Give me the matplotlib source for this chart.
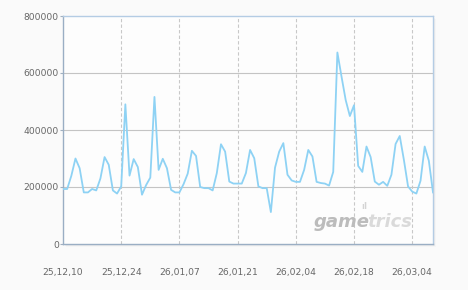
import numpy as np
import pandas as pd
import matplotlib
matplotlib.use('Agg')
from matplotlib import pyplot as plt
from matplotlib.patches import Rectangle

# daily values, 2025-12-10 .. 2026-03-09
values = [193000, 193000, 239000, 300000, 266000, 181000, 181000, 193000, 188000, 230000,
          305000, 278000, 188000, 177000, 202000, 490000, 240000, 298000, 270000, 173000,
          207000, 233000, 516000, 260000, 299000, 266000, 190000, 181000, 181000, 210000,
          247000, 327000, 309000, 200000, 196000, 196000, 188000, 249000, 350000, 324000,
          219000, 212000, 212000, 212000, 249000, 330000, 301000, 202000, 196000, 196000,
          112000, 268000, 324000, 354000, 243000, 223000, 218000, 218000, 260000, 330000,
          307000, 218000, 214000, 212000, 205000, 253000, 672000, 587000, 505000, 449000,
          487000, 274000, 253000, 342000, 305000, 219000, 208000, 218000, 204000, 243000,
          351000, 379000, 295000, 202000, 184000, 177000, 222000, 342000, 292000, 181000]
dates = pd.date_range('2025-12-10', periods=len(values), freq='D')

tick_dates = pd.to_datetime(['2025-12-10', '2025-12-24', '2026-01-07', '2026-01-21',
                             '2026-02-04', '2026-02-18', '2026-03-04'])
tick_labels = ['25,12,10', '25,12,24', '26,01,07', '26,01,21', '26,02,04', '26,02,18', '26,03,04']
y_ticks = [0, 200000, 400000, 600000, 800000]

W, H = 468, 290
fig = plt.figure(figsize=(W / 100, H / 100), dpi=100, facecolor='#fafafa')
x0, x1, y0, y1 = 63, 433, 16, 244
pos = [x0 / W, 1 - y1 / H, (x1 - x0) / W, (y1 - y0) / H]

# soft shadow under the frame
for i, a in enumerate([0.10, 0.06, 0.03]):
    d = i + 1
    fig.patches.append(Rectangle((pos[0] + d / W, pos[1] - d / H), pos[2], pos[3],
                                 transform=fig.transFigure, facecolor='#707070',
                                 edgecolor='none', alpha=a, zorder=0))

ax = fig.add_axes(pos, facecolor='#fdfdfd', zorder=2)
ax.plot(dates, values, color='#8ed2f4', lw=1.3, zorder=3, solid_joinstyle='round')

ax.set_xlim(dates[0], dates[-1])
ax.set_ylim(0, 800000)
ax.set_yticks(y_ticks)
ax.set_yticklabels([str(v) for v in y_ticks])
ax.set_xticks(tick_dates)
ax.set_xticklabels(tick_labels)

for v in y_ticks[1:-1]:
    ax.axhline(v, color='#c4c4c4', lw=0.8, zorder=1)
for d in tick_dates[1:]:
    ax.axvline(d, color='#c8c8c8', lw=0.8, ls=(0, (3, 2)), zorder=1)

ax.tick_params(axis='y', length=2, width=0.8, color='#a0b0c0', pad=1,
               labelsize=6.6, labelcolor='#666666')
ax.tick_params(axis='x', length=0, pad=17, labelsize=6.6, labelcolor='#666666')

for s in ['left', 'bottom']:
    ax.spines[s].set_color('#9aaec4')
    ax.spines[s].set_linewidth(1.0)
for s in ['top', 'right']:
    ax.spines[s].set_color('#b4cce4')
    ax.spines[s].set_linewidth(1.0)

# watermark
ax.text(0.678, 0.075, 'game', transform=ax.transAxes, fontsize=13, fontweight='bold',
        style='italic', color='#bcbcbc', ha='left', va='baseline', zorder=2)
ax.text(0.823, 0.075, 'trics', transform=ax.transAxes, fontsize=13, fontweight='bold',
        style='italic', color='#dadada', ha='left', va='baseline', zorder=2)
ax.text(0.805, 0.155, 'ıl', transform=ax.transAxes, fontsize=6, fontweight='bold',
        color='#d4d4d4', ha='left', va='baseline', zorder=2)

fig.savefig('out.png', dpi=100, facecolor=fig.get_facecolor())
